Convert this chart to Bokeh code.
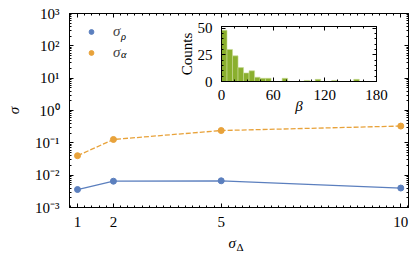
import math
from bokeh.plotting import figure
from bokeh.models import (Range1d, FixedTicker, LinearAxis, LogAxis, Legend,
                          LegendItem, Label)
from bokeh.layouts import column
from bokeh.embed import file_html
from bokeh.resources import INLINE

# ---------------- data ----------------
sigma_delta = [1, 2, 5, 10]
sigma_rho = [0.0036, 0.0065, 0.0067, 0.0040]
sigma_alpha = [0.040, 0.127, 0.24, 0.33]

beta_bin_edges = [0.0, 6.4, 12.8, 19.2, 25.6, 32.0, 38.4, 44.8, 51.2, 57.6,
                  64.0, 70.4, 76.8, 83.2, 89.6, 96.0, 102.4, 108.8, 115.2,
                  121.6, 128.0, 134.4, 140.8, 147.2, 153.6, 160.0]
beta_counts = [48, 30, 24, 13, 8, 10, 4, 3, 3, 0, 0, 3, 0, 0, 0, 1, 0, 2, 0, 0,
               1, 0, 0, 0, 2]

x_ticks = [1, 2, 5, 10]
y_ticks = [0.001, 0.01, 0.1, 1, 10, 100, 1000]
y_tick_labels = ["10⁻³", "10⁻²", "10⁻¹", "10⁰", "10¹", "10²", "10³"]
inset_x_ticks = [0, 60, 120, 180]
inset_y_ticks = [0, 25, 50]

BLUE = "#5B7FBE"
ORANGE = "#E8A23A"
GREEN = "#8AAF2E"
FONT = "Liberation Serif"
FS = "15px"

x_minor = [round(1 + 0.2 * i, 2) for i in range(-1, 47)]
y_minor = [m * 10.0 ** k for k in range(-3, 3) for m in range(2, 10)]


def style_axis(ax, ticks=None):
    ax.axis_line_color = "black"
    ax.axis_line_width = 1
    ax.major_tick_line_color = "black"
    ax.minor_tick_line_color = "black"
    ax.major_tick_in = 4
    ax.major_tick_out = 0
    ax.minor_tick_in = 2
    ax.minor_tick_out = 0
    ax.major_label_text_font = FONT
    ax.major_label_text_color = "black"
    ax.major_label_text_font_size = FS
    ax.axis_label_text_font = FONT
    ax.axis_label_text_font_size = FS
    ax.axis_label_text_color = "black"
    ax.major_label_standoff = 10
    if ticks is not None:
        # mirrored axis: ticks only
        ax.major_label_overrides = {t: "" for t in ticks}
        ax.major_label_text_font_size = "1px"
        ax.major_label_standoff = 0


# ---------------- main figure (frame: x 69..408, y 13..207) ----------------
X0 = 0.777
X1 = X0 + 339 / 35.92
p = figure(frame_width=339, frame_height=194, x_range=Range1d(X0, X1),
           y_range=Range1d(1e-3, 1e3), y_axis_type="log",
           output_backend="svg", toolbar_location=None, frame_align=False,
           min_border_left=69, min_border_right=2, min_border_top=13,
           min_border_bottom=43)
p.grid.visible = False
p.outline_line_color = "black"
p.background_fill_color = "white"
p.border_fill_color = "white"

xt = FixedTicker(ticks=x_ticks, minor_ticks=x_minor)
yt = FixedTicker(ticks=y_ticks, minor_ticks=y_minor)
p.xaxis.ticker = xt
p.yaxis.ticker = yt
p.yaxis.major_label_overrides = {t: s for t, s in zip(y_ticks, y_tick_labels)}
style_axis(p.xaxis[0])
style_axis(p.yaxis[0])
p.xaxis.major_label_standoff = 9
p.yaxis.axis_label = "σ"
p.yaxis.axis_label_text_font_style = "italic"
p.yaxis.axis_label_standoff = 10

top_ax = LinearAxis(ticker=xt)
style_axis(top_ax, ticks=x_ticks)
p.add_layout(top_ax, "above")
right_ax = LogAxis(ticker=yt)
style_axis(right_ax, ticks=y_ticks)
p.add_layout(right_ax, "right")

p.line(sigma_delta, sigma_rho, line_color=BLUE, line_width=1.3)
r_rho = p.scatter(sigma_delta, sigma_rho, size=6, fill_color=BLUE,
                  line_color=BLUE)
p.line(sigma_delta, sigma_alpha, line_color=ORANGE, line_width=1.3,
       line_dash="5 2")
r_alpha = p.scatter(sigma_delta, sigma_alpha, size=6, fill_color=ORANGE,
                    line_color=ORANGE)

legend = Legend(items=[LegendItem(label="σ", renderers=[r_rho]),
                       LegendItem(label="σ", renderers=[r_alpha])],
                location=(16, 144.5), padding=0, spacing=0, margin=0,
                glyph_width=12, glyph_height=21, label_height=21,
                label_standoff=16, border_line_alpha=0,
                background_fill_alpha=0, label_text_font=FONT,
                label_text_font_size=FS, label_text_font_style="italic")
p.add_layout(legend)


def dx(px):
    return X0 + (px - 69) / 35.92


def dy(py):
    return 10 ** (-3 + (207 - py) * 6 / 194.0)


for txt, px, py in [("ρ", 120.5, 35.5), ("α", 120.5, 54.0)]:
    p.add_layout(Label(x=dx(px), y=dy(py), text=txt, text_font=FONT,
                       text_font_size="10.5px", text_font_style="italic",
                       text_baseline="middle", text_align="left",
                       text_color="black"))

# ---------------- inset (frame: x 221..376, y 26..81) ----------------
LB, TB, RB, BB = 50, 12, 16, 37
inset = figure(frame_width=155, frame_height=55, x_range=Range1d(0, 180),
               y_range=Range1d(0, 51.5), output_backend="svg",
               toolbar_location=None, frame_align=False,
               min_border_left=LB, min_border_right=RB,
               min_border_top=TB, min_border_bottom=BB)
inset.grid.visible = False
inset.outline_line_color = "black"
inset.background_fill_color = "white"
inset.border_fill_alpha = 0
ixt = FixedTicker(ticks=inset_x_ticks, minor_ticks=list(range(0, 181, 15)))
iyt = FixedTicker(ticks=inset_y_ticks, minor_ticks=list(range(0, 52, 5)))
inset.xaxis.ticker = ixt
inset.yaxis.ticker = iyt
style_axis(inset.xaxis[0])
style_axis(inset.yaxis[0])
inset.xaxis.major_label_standoff = 8
inset.yaxis.major_label_standoff = 9
inset.xaxis.axis_label = "β"
inset.xaxis.axis_label_text_font_style = "italic"
inset.xaxis.axis_label_standoff = -5
inset.yaxis.axis_label = "Counts"
inset.yaxis.axis_label_text_font_style = "normal"
inset.yaxis.axis_label_standoff = 0
it = LinearAxis(ticker=ixt)
style_axis(it, ticks=inset_x_ticks)
inset.add_layout(it, "above")
ir = LinearAxis(ticker=iyt)
style_axis(ir, ticks=inset_y_ticks)
inset.add_layout(ir, "right")

inset.quad(left=beta_bin_edges[:-1], right=beta_bin_edges[1:], bottom=0,
           top=beta_counts, fill_color=GREEN, line_color="#c9dc97",
           line_width=0.6)
MAIN_H = 13 + 194 + 43
inset_top = 26 - TB
inset.margin = (inset_top - MAIN_H, 0, 0, 221 - LB)
inset_bottom = inset_top + TB + 55 + BB

# ---------------- x-axis label overlay: sigma with subscript Delta --------
SUB_TOP, SUB_LEFT = 232, 218
sub = figure(width=34, height=22, x_range=Range1d(0, 34),
             y_range=Range1d(22, 0), output_backend="svg",
             toolbar_location=None, min_border=0, x_axis_location=None,
             y_axis_location=None, frame_align=False)
sub.grid.visible = False
sub.outline_line_color = None
sub.background_fill_alpha = 0
sub.border_fill_alpha = 0
sub.add_layout(Label(x=228 - SUB_LEFT, y=242 - SUB_TOP, text="σ",
                     text_font=FONT, text_font_size=FS,
                     text_font_style="italic", text_baseline="middle",
                     text_color="black"))
sub.add_layout(Label(x=236 - SUB_LEFT, y=246.5 - SUB_TOP, text="Δ",
                     text_font=FONT, text_font_size="11px",
                     text_baseline="middle", text_color="black"))
sub.margin = (SUB_TOP - inset_bottom, 0, 0, SUB_LEFT)

layout = column(p, inset, sub)
open("out.html", "w").write(file_html(layout, INLINE))
